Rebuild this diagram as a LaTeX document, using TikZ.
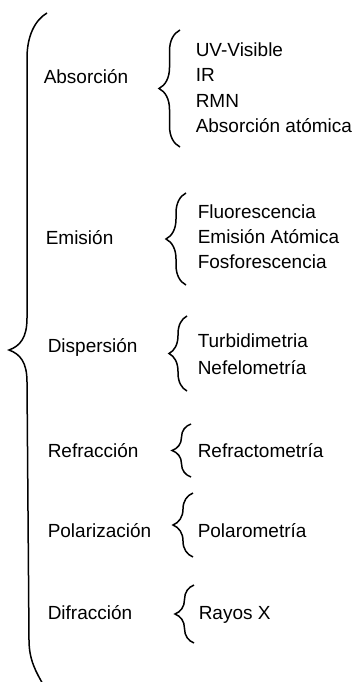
\documentclass[tikz,border=0pt]{standalone}
\usepackage{fontspec}
\setmainfont{Liberation Sans}
\usetikzlibrary{decorations.pathreplacing}

\begin{document}
\begin{tikzpicture}[
  x=1pt, y=-1pt,
  line width=1.5pt,
  grouplabel/.style={
    anchor=base west,
    inner sep=0pt,
    font=\fontsize{19}{23}\selectfont
  },
  itemlabel/.style={
    anchor=base west,
    inner sep=0pt,
    font=\fontsize{19}{23}\selectfont
  },
  subbrace/.style={
    decorate,
    decoration={brace, amplitude=#1},
    line width=1.5pt
  }
]
  \useasboundingbox (0,0) rectangle (356,682);

  % =========================================================================
  % MAIN BRACE
  % =========================================================================
  \draw (47,13) .. controls (35,20) and (27,36) .. (27,58)
    -- (27,318) .. controls (27,338) and (20,346) .. (9,350)
    .. controls (20,354) and (27,362) .. (27,382)
    -- (29,640) .. controls (29,660) and (36,672) .. (44,686);

  % =========================================================================
  % GROUPS
  % =========================================================================
  \node[grouplabel] (absorcion) at (43,84) {Absorción};
  \node[grouplabel] (emision) at (45,244) {Emisión};
  \node[grouplabel] (dispersion) at (47,352) {Dispersión};
  \node[grouplabel] (refraccion) at (47,457) {Refracción};
  \node[grouplabel] (polarizacion) at (47,537) {Polarización};
  \node[grouplabel] (difraccion) at (47,619) {Difracción};

  % Absorción
  \draw[subbrace=21pt] (180,147) -- (180,30);
  \node[itemlabel] (uvvis) at (195,57) {UV-Visible};
  \node[itemlabel] (ir) at (195,82) {IR};
  \node[itemlabel] (rmn) at (195,107) {RMN};
  \node[itemlabel] (absat) at (195,132) {Absorción atómica};

  % Emisión
  \draw[subbrace=20pt] (186,285) -- (186,193);
  \node[itemlabel] (fluor) at (197,218) {Fluorescencia};
  \node[itemlabel] (emiat) at (197,243) {Emisión Atómica};
  \node[itemlabel] (fosfor) at (197,268) {Fosforescencia};

  % Dispersión
  \draw[subbrace=18pt] (187,391) -- (187,316);
  \node[itemlabel] (turbi) at (197,347) {Turbidimetria};
  \node[itemlabel] (nefelo) at (197,374) {Nefelometría};

  % Refracción
  \draw[subbrace=19pt] (191,477) -- (191,424);
  \node[itemlabel] (refracto) at (197,457) {Refractometría};

  % Polarización
  \draw[subbrace=20pt] (193,557) -- (193,493);
  \node[itemlabel] (polaro) at (197,537) {Polarometría};

  % Difracción
  \draw[subbrace=19pt] (194,643) -- (194,585);
  \node[itemlabel] (rayosx) at (198,619) {Rayos X};

\end{tikzpicture}
\end{document}
